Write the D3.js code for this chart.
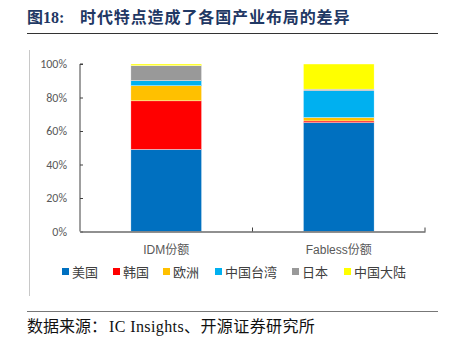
<!DOCTYPE html>
<html>
<head>
<meta charset="utf-8">
<script src="https://cdn.jsdelivr.net/npm/d3@7"></script>
<style>
  body { margin: 0; background: #fff; }
  svg { display: block; }
</style>
</head>
<body>
<div id="chart"></div>
<script>
// data
var categories = ["IDM份额", "Fabless份额"];
var regions = ["美国", "韩国", "欧洲", "中国台湾", "日本", "中国大陆"];
var colors = ["#0070C0", "#FF0000", "#FFC000", "#00B0F0", "#999999", "#FFFF00"];
var idmShare = [49, 29, 9, 3, 9, 1];
var fablessShare = [65, 1, 2, 16, 1, 15];
var yTicks = [0, 20, 40, 60, 80, 100];

var W = 450, H = 347;
var svg = d3.select("#chart").append("svg").attr("width", W).attr("height", H);

// title + rules
var title = svg.append("text")
  .attr("y", 23)
  .attr("fill", "#1F3864")
  .attr("font-family", "'Liberation Serif', 'Noto Sans CJK SC', serif")
  .attr("font-weight", "bold")
  .attr("font-size", 16);
title.append("tspan").attr("x", 27).text("图18:");
title.append("tspan").attr("x", 80).attr("letter-spacing", 0.9)
  .text("时代特点造成了各国产业布局的差异");
svg.append("line").attr("x1", 27).attr("x2", 438).attr("y1", 33.5).attr("y2", 33.5)
  .attr("stroke", "#333").attr("stroke-width", 1.2);
svg.append("line").attr("x1", 29.5).attr("x2", 29.5).attr("y1", 50).attr("y2", 296)
  .attr("stroke", "#c8c8c8").attr("stroke-width", 1);
svg.append("line").attr("x1", 27).attr("x2", 438).attr("y1", 311.5).attr("y2", 311.5)
  .attr("stroke", "#777").attr("stroke-width", 1.2);
var src = svg.append("text")
  .attr("y", 332)
  .attr("fill", "#111")
  .attr("font-family", "'Liberation Serif', 'Noto Sans CJK SC', serif")
  .attr("font-size", 16);
src.append("tspan").attr("x", 27).text("数据来源：");
src.append("tspan").attr("x", 109).attr("letter-spacing", 0.4).text("IC Insights、开源证券研究所");

// scales
var x = d3.scaleBand().domain(categories).range([80, 425])
  .paddingInner(0.59).paddingOuter(0.295);
var y = d3.scaleLinear().domain([0, 100]).range([231.5, 64]);

var rows = categories.map(function (c, i) {
  var vals = i === 0 ? idmShare : fablessShare;
  var o = { cat: c };
  regions.forEach(function (r, j) { o[r] = vals[j]; });
  return o;
});
var stack = d3.stack().keys(regions)(rows);

var layers = svg.selectAll(".layer").data(stack).enter()
  .append("g").attr("class", "layer")
  .attr("fill", function (d, i) { return colors[i]; });
layers.selectAll("rect").data(function (d) { return d; }).enter()
  .append("rect")
  .attr("x", function (d) { return x(d.data.cat); })
  .attr("width", x.bandwidth())
  .attr("y", function (d) { return y(d[1]); })
  .attr("height", function (d) { return y(d[0]) - y(d[1]); })
  .attr("stroke", "#fff").attr("stroke-width", 0.4);

// y axis
var yAxis = svg.append("g").attr("transform", "translate(80,0)")
  .call(d3.axisRight(y).tickValues(yTicks).tickSize(3)
    .tickFormat(function (d) { return d + "%"; }));
yAxis.select(".domain").attr("stroke", "#404040").attr("d", "M3,64H0V231.5");
yAxis.selectAll(".tick line").attr("stroke", "#404040");
yAxis.selectAll(".tick text")
  .attr("x", -13).attr("text-anchor", "end")
  .attr("fill", "#595959")
  .attr("font-family", "Calibri, Carlito, 'Liberation Sans', 'Noto Sans CJK SC', sans-serif")
  .attr("font-size", 12);

// x axis
var xAxis = svg.append("g").attr("transform", "translate(0,231.5)")
  .call(d3.axisBottom(x).tickSize(0).tickPadding(14));
xAxis.select(".domain").attr("stroke", "#6b6b6b").attr("stroke-width", 1.5);
xAxis.selectAll(".tick text")
  .attr("fill", "#595959")
  .attr("font-family", "'Liberation Sans', 'Noto Sans CJK SC', sans-serif")
  .attr("font-size", 12);
// category separators: boundary between bands and the right end
var seps = [x(categories[1]) - x.step() * x.paddingInner() / 2, x.range()[1]];
xAxis.selectAll(".sep").data(seps).enter().append("line")
  .attr("x1", function (d) { return d; }).attr("x2", function (d) { return d; })
  .attr("y1", 0).attr("y2", -4).attr("stroke", "#404040");

// legend
var legX = [62, 113, 163, 215, 292, 344];
var leg = svg.selectAll(".leg").data(regions).enter()
  .append("g").attr("class", "leg")
  .attr("transform", function (d, i) { return "translate(" + legX[i] + ",272)"; });
leg.append("rect").attr("x", 0).attr("y", -4).attr("width", 7).attr("height", 7)
  .attr("fill", function (d, i) { return colors[i]; });
leg.append("text").attr("x", 10).attr("y", 5)
  .attr("fill", "#404040")
  .attr("font-family", "'Noto Sans CJK SC', sans-serif")
  .attr("font-size", 13)
  .text(function (d) { return d; });
</script>
</body>
</html>
